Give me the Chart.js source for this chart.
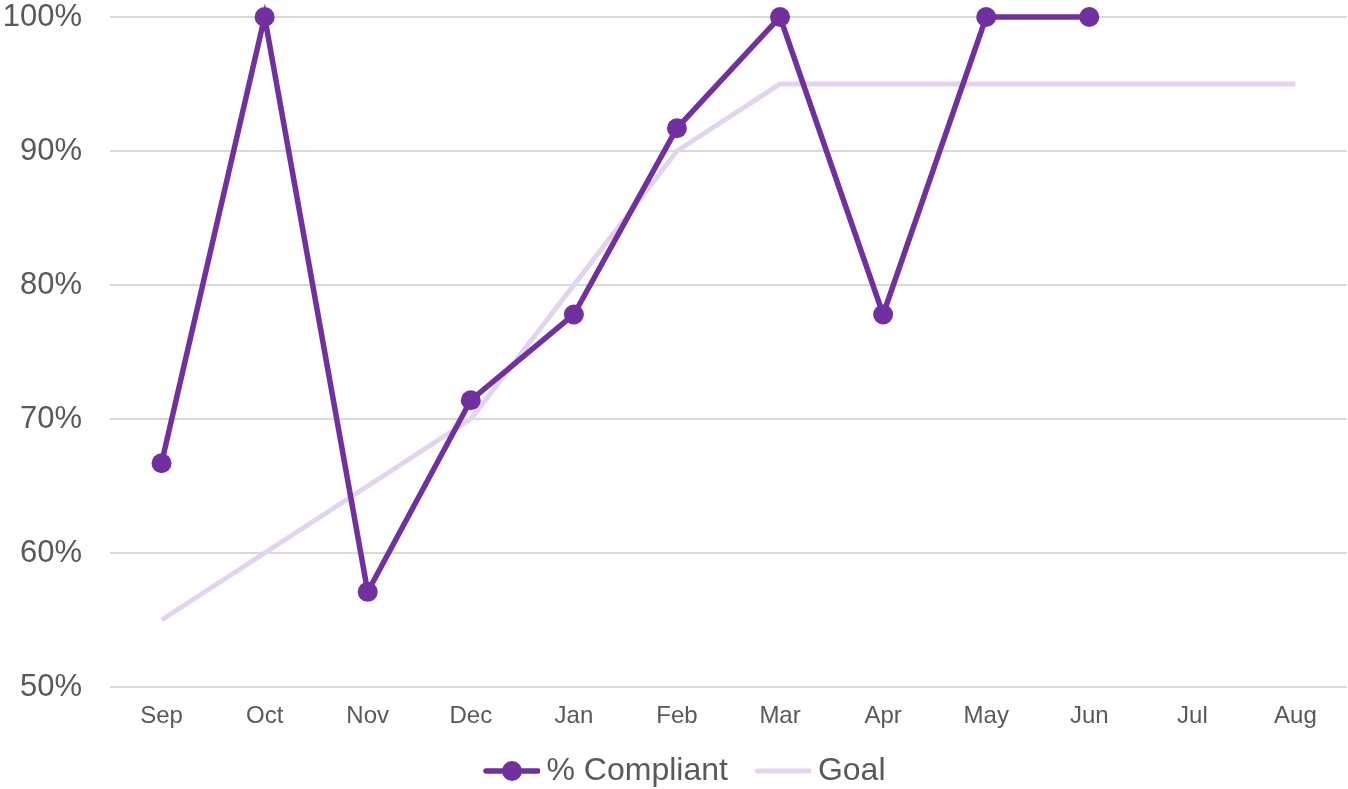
<!DOCTYPE html>
<html>
<head>
<meta charset="utf-8">
<script src="https://cdn.jsdelivr.net/npm/chart.js@4/dist/chart.umd.min.js"></script>
<style>
    html, body { margin: 0; padding: 0; background: #fff; }
    #box { width: 1348px; height: 789px; }
</style>
</head>
<body>
<div id="box"><canvas id="complianceChart"></canvas></div>
<script>
const months = ['Sep', 'Oct', 'Nov', 'Dec', 'Jan', 'Feb', 'Mar', 'Apr', 'May', 'Jun', 'Jul', 'Aug'];
const compliant = [66.7, 100, 57.1, 71.4, 77.8, 91.7, 100, 77.8, 100, 100, null, null];
const goal = [55, 60, 65, 70, 80, 90, 95, 95, 95, 95, 95, 95];
const yTicks = [50, 60, 70, 80, 90, 100];

const purple = '#7030A0';
const lilac = '#E2D3F1';
const textGray = '#595959';
const legendDrop = 8; // legend sits a bit lower than the canvas edge allows

// legend markers: a line with a dot / plain line, with blank space on the left as item gap
function legendMarker(color, lineW, dot) {
    const c = document.createElement('canvas');
    c.width = 88;
    c.height = 22;
    const g = c.getContext('2d');
    g.strokeStyle = color;
    g.lineWidth = lineW;
    g.lineCap = 'round';
    g.beginPath();
    g.moveTo(34, 11);
    g.lineTo(86, 11);
    g.stroke();
    if (dot) {
        g.fillStyle = color;
        g.beginPath();
        g.arc(60, 11, 10, 0, Math.PI * 2);
        g.fill();
    }
    return c;
}
const markers = [legendMarker(purple, 5.5, true), legendMarker(lilac, 5, false)];

const data = {
    labels: months,
    datasets: [{
        label: '% Compliant',
        data: compliant,
        borderColor: purple,
        backgroundColor: purple,
        borderWidth: 5.5,
        pointRadius: 10,
        pointHoverRadius: 10,
        pointBackgroundColor: purple,
        pointBorderWidth: 0,
        tension: 0,
        clip: false,
        order: 1
    }, {
        label: 'Goal',
        data: goal,
        borderColor: lilac,
        backgroundColor: lilac,
        borderWidth: 5,
        pointRadius: 0,
        tension: 0,
        clip: false,
        order: 2
    }]
};

const config = {
    type: 'line',
    data: data,
    options: {
        responsive: true,
        maintainAspectRatio: false,
        animation: false,
        layout: { autoPadding: false, padding: { top: 0, right: 1, bottom: -legendDrop, left: 0 } },
        scales: {
            y: {
                min: 50,
                max: 100,
                afterBuildTicks: (axis) => { axis.ticks = yTicks.map(v => ({ value: v })); },
                afterFit: (axis) => {
                    axis.width = 110;
                    axis.paddingTop = 17;
                    axis.paddingBottom = 0;
                },
                border: { display: false },
                grid: { color: '#D9D9D9', lineWidth: 2, drawTicks: false },
                ticks: {
                    padding: 28,
                    color: textGray,
                    font: { family: 'Liberation Sans, Arial', size: 31 },
                    callback: (v) => v + '%'
                }
            },
            x: {
                offset: true,
                afterFit: (axis) => {
                    axis.height = axis.chart.height + legendDrop - 687 - axis.chart.legend.height;
                },
                border: { display: false },
                grid: { display: false, drawTicks: false },
                ticks: {
                    padding: 15,
                    color: textGray,
                    maxRotation: 0,
                    font: { family: 'Liberation Sans, Arial', size: 24 }
                }
            }
        },
        plugins: {
            legend: {
                position: 'bottom',
                labels: {
                    usePointStyle: true,
                    pointStyleWidth: 69,
                    color: textGray,
                    padding: 5,
                    font: { family: 'Liberation Sans, Arial', size: 32 },
                    generateLabels: (chart) => {
                        const items = Chart.defaults.plugins.legend.labels.generateLabels(chart);
                        items.forEach((it, i) => { it.pointStyle = markers[i]; });
                        return items;
                    }
                }
            },
            tooltip: { enabled: false }
        }
    }
};

new Chart(document.getElementById('complianceChart').getContext('2d'), config);
</script>
</body>
</html>
